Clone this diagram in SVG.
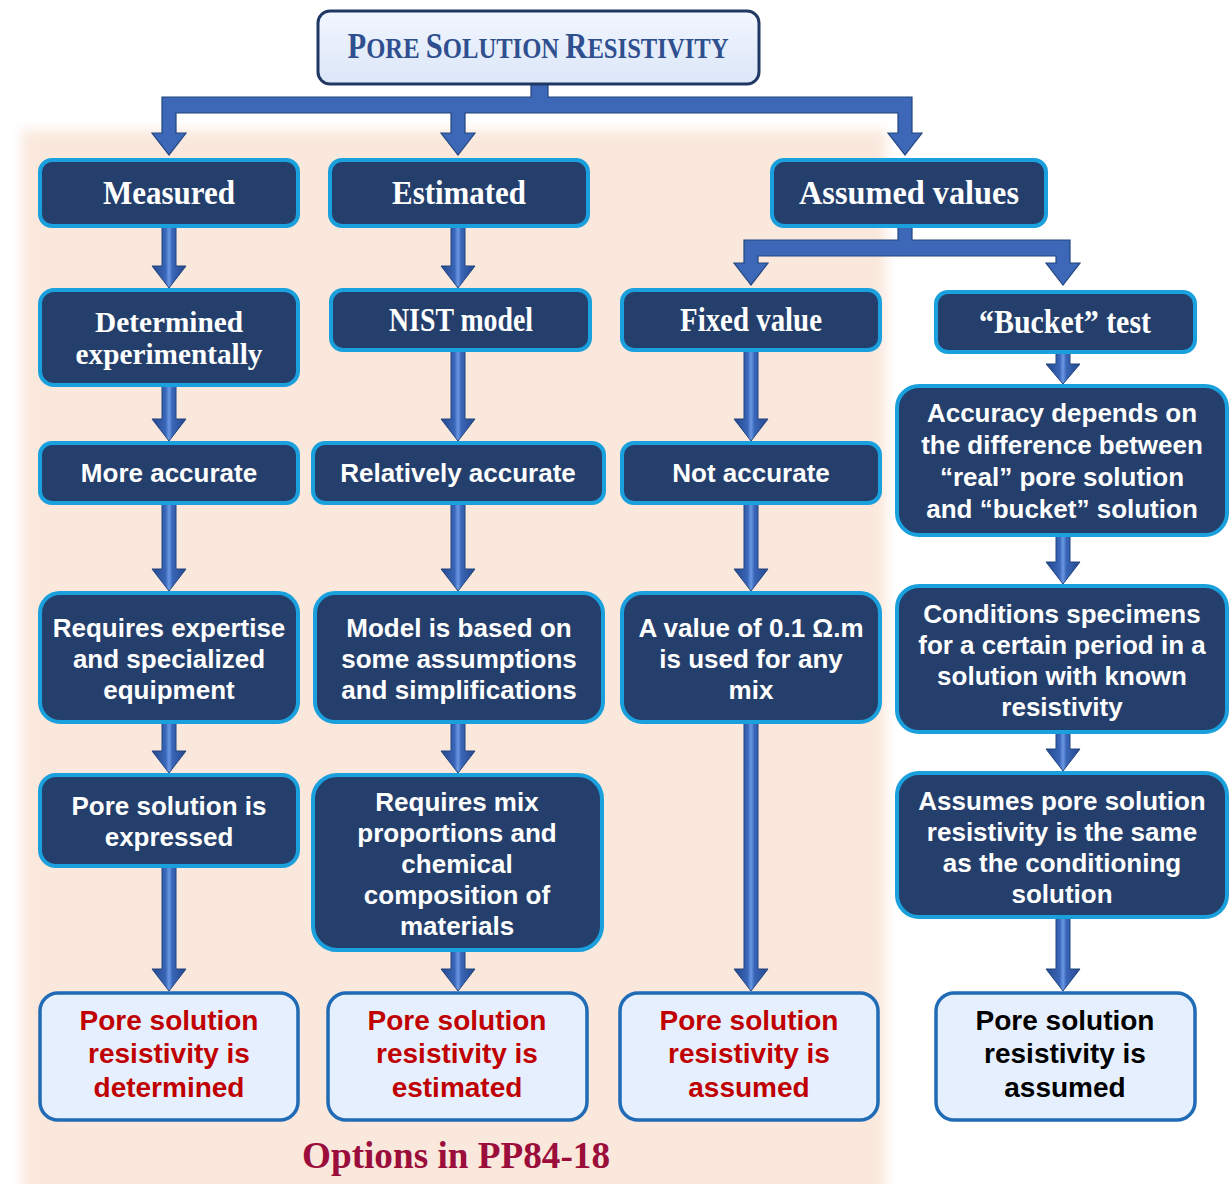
<svg xmlns="http://www.w3.org/2000/svg" width="1230" height="1184" viewBox="0 0 1230 1184">
<defs>
<filter id="soft" x="-5%" y="-5%" width="110%" height="110%"><feGaussianBlur stdDeviation="6"/></filter>
<linearGradient id="ag" x1="0" y1="0" x2="1" y2="0">
<stop offset="0" stop-color="#23478a"/><stop offset="0.4" stop-color="#3a66b8"/><stop offset="0.5" stop-color="#6a98e4"/><stop offset="0.6" stop-color="#3a66b8"/><stop offset="1" stop-color="#23478a"/>
</linearGradient>
<linearGradient id="tg" x1="0" y1="0" x2="0" y2="1">
<stop offset="0" stop-color="#f2f6ff"/><stop offset="1" stop-color="#dbe6f7"/>
</linearGradient>
<style>
.dk{fill:#253f6d;stroke:#1aa0dc;stroke-width:4}
.lt{fill:#e6effd;stroke:#1f6bb5;stroke-width:3.5}
.hd{font-family:"Liberation Serif",serif;font-weight:bold;font-size:33px;fill:#ffffff;text-anchor:middle}
.tx{font-family:"Liberation Sans",Arial,sans-serif;font-weight:bold;font-size:26px;fill:#ffffff;text-anchor:middle}
.rd{font-family:"Liberation Sans",Arial,sans-serif;font-weight:bold;font-size:28px;fill:#c00000;text-anchor:middle}
.bk{font-family:"Liberation Sans",Arial,sans-serif;font-weight:bold;font-size:28px;fill:#000000;text-anchor:middle}
.ar{fill:url(#ag);stroke:#22457f;stroke-width:1}
.br{fill:#3d68b8;stroke:#22457f;stroke-width:1.2}
</style>
</defs>
<rect width="1230" height="1184" fill="#ffffff"/>
<rect x="22" y="130" width="864" height="1070" fill="#fae8dd" filter="url(#soft)"/>

<g id="connectors">
<path class="br" d="M531,84 L548,84 L548,97 L912,97 L912,133 L922,133 L905,155 L888,133 L898,133 L898,113 L465,113 L465,133 L475,133 L458,155 L441,133 L451,133 L451,113 L176,113 L176,133 L186,133 L169,155 L152,133 L162,133 L162,97 L531,97 Z"/>
<path class="br" d="M898,226 L912,226 L912,240 L1070,240 L1070,263 L1080,263 L1063,285 L1046,263 L1056,263 L1056,256 L758,256 L758,263 L768,263 L751,285 L734,263 L744,263 L744,240 L898,240 Z"/>
<polygon class="ar" points="162,226 176,226 176,266 186,266 169,288 152,266 162,266"/>
<polygon class="ar" points="162,385 176,385 176,419 186,419 169,441 152,419 162,419"/>
<polygon class="ar" points="162,503 176,503 176,569 186,569 169,591 152,569 162,569"/>
<polygon class="ar" points="162,722 176,722 176,751 186,751 169,773 152,751 162,751"/>
<polygon class="ar" points="162,866 176,866 176,969 186,969 169,991 152,969 162,969"/>
<polygon class="ar" points="451,226 465,226 465,266 475,266 458,288 441,266 451,266"/>
<polygon class="ar" points="451,350 465,350 465,419 475,419 458,441 441,419 451,419"/>
<polygon class="ar" points="451,503 465,503 465,569 475,569 458,591 441,569 451,569"/>
<polygon class="ar" points="451,722 465,722 465,751 475,751 458,773 441,751 451,751"/>
<polygon class="ar" points="451,950 465,950 465,969 475,969 458,991 441,969 451,969"/>
<polygon class="ar" points="744,350 758,350 758,419 768,419 751,441 734,419 744,419"/>
<polygon class="ar" points="744,503 758,503 758,569 768,569 751,591 734,569 744,569"/>
<polygon class="ar" points="744,722 758,722 758,969 768,969 751,991 734,969 744,969"/>
<polygon class="ar" points="1056,352 1070,352 1070,364 1080,364 1063,384 1046,364 1056,364"/>
<polygon class="ar" points="1056,535 1070,535 1070,562 1080,562 1063,584 1046,562 1056,562"/>
<polygon class="ar" points="1056,732 1070,732 1070,749 1080,749 1063,771 1046,749 1056,749"/>
<polygon class="ar" points="1056,917 1070,917 1070,969 1080,969 1063,991 1046,969 1056,969"/>
</g>

<g id="title">
<rect x="318" y="11" width="441" height="73" rx="12" fill="url(#tg)" stroke="#1f3864" stroke-width="3"/>
<text transform="translate(538,58) scale(0.85,1)" x="0" y="0" text-anchor="middle" font-family="'Liberation Serif',serif" font-weight="bold" fill="#2f4f8f"><tspan font-size="36">P</tspan><tspan font-size="29">ORE </tspan><tspan font-size="36">S</tspan><tspan font-size="29">OLUTION </tspan><tspan font-size="36">R</tspan><tspan font-size="29">ESISTIVITY</tspan></text>
</g>

<g id="n_measured"><rect class="dk" x="40" y="160" width="258" height="66" rx="12"/><text class="hd" x="169" y="204" textLength="132" lengthAdjust="spacingAndGlyphs">Measured</text></g>
<g id="n_estimated"><rect class="dk" x="330" y="160" width="258" height="66" rx="12"/><text class="hd" x="459" y="204" textLength="134" lengthAdjust="spacingAndGlyphs">Estimated</text></g>
<g id="n_assumed"><rect class="dk" x="772" y="160" width="274" height="66" rx="12"/><text class="hd" x="909" y="204" textLength="220" lengthAdjust="spacingAndGlyphs">Assumed values</text></g>

<g id="n_determined"><rect class="dk" x="40" y="290" width="258" height="95" rx="14"/><text class="hd" x="169" y="332" font-size="30" style="font-size:30px" textLength="148" lengthAdjust="spacingAndGlyphs">Determined</text><text class="hd" x="169" y="364" style="font-size:30px" textLength="187" lengthAdjust="spacingAndGlyphs">experimentally</text></g>
<g id="n_nist"><rect class="dk" x="331" y="290" width="259" height="60" rx="12"/><text class="hd" x="461" y="331" textLength="144" lengthAdjust="spacingAndGlyphs">NIST model</text></g>
<g id="n_fixed"><rect class="dk" x="622" y="290" width="258" height="60" rx="12"/><text class="hd" x="751" y="331" textLength="142" lengthAdjust="spacingAndGlyphs">Fixed value</text></g>
<g id="n_bucket"><rect class="dk" x="936" y="292" width="259" height="60" rx="12"/><text class="hd" x="1065" y="333" textLength="172" lengthAdjust="spacingAndGlyphs">“Bucket” test</text></g>

<g id="n_more"><rect class="dk" x="40" y="443" width="258" height="60" rx="12"/><text class="tx" x="169" y="482">More accurate</text></g>
<g id="n_relatively"><rect class="dk" x="313" y="443" width="291" height="60" rx="12"/><text class="tx" x="458" y="482">Relatively accurate</text></g>
<g id="n_not"><rect class="dk" x="622" y="443" width="258" height="60" rx="12"/><text class="tx" x="751" y="482">Not accurate</text></g>

<g id="n_accuracy"><rect class="dk" x="897" y="386" width="330" height="149" rx="22"/>
<text class="tx" x="1062" y="422">Accuracy depends on</text><text class="tx" x="1062" y="454">the difference between</text><text class="tx" x="1062" y="486">“real” pore solution</text><text class="tx" x="1062" y="518">and “bucket” solution</text></g>

<g id="n_expertise"><rect class="dk" x="40" y="593" width="258" height="129" rx="20"/>
<text class="tx" x="169" y="637">Requires expertise</text><text class="tx" x="169" y="668">and specialized</text><text class="tx" x="169" y="699">equipment</text></g>
<g id="n_model"><rect class="dk" x="315" y="593" width="288" height="129" rx="20"/>
<text class="tx" x="459" y="637">Model is based on</text><text class="tx" x="459" y="668">some assumptions</text><text class="tx" x="459" y="699">and simplifications</text></g>
<g id="n_value"><rect class="dk" x="622" y="593" width="258" height="129" rx="20"/>
<text class="tx" x="751" y="637">A value of 0.1 Ω.m</text><text class="tx" x="751" y="668">is used for any</text><text class="tx" x="751" y="699">mix</text></g>
<g id="n_conditions"><rect class="dk" x="897" y="586" width="330" height="146" rx="22"/>
<text class="tx" x="1062" y="623">Conditions specimens</text><text class="tx" x="1062" y="654">for a certain period in a</text><text class="tx" x="1062" y="685">solution with known</text><text class="tx" x="1062" y="716">resistivity</text></g>

<g id="n_expressed"><rect class="dk" x="40" y="775" width="258" height="91" rx="16"/>
<text class="tx" x="169" y="815">Pore solution is</text><text class="tx" x="169" y="846">expressed</text></g>
<g id="n_mix"><rect class="dk" x="313" y="775" width="289" height="175" rx="24"/>
<text class="tx" x="457" y="811">Requires mix</text><text class="tx" x="457" y="842">proportions and</text><text class="tx" x="457" y="873">chemical</text><text class="tx" x="457" y="904">composition of</text><text class="tx" x="457" y="935">materials</text></g>
<g id="n_assumes"><rect class="dk" x="897" y="773" width="330" height="144" rx="22"/>
<text class="tx" x="1062" y="810">Assumes pore solution</text><text class="tx" x="1062" y="841">resistivity is the same</text><text class="tx" x="1062" y="872">as the conditioning</text><text class="tx" x="1062" y="903">solution</text></g>

<g id="n_r1"><rect class="lt" x="40" y="993" width="258" height="127" rx="18"/>
<text class="rd" x="169" y="1030">Pore solution</text><text class="rd" x="169" y="1063">resistivity is</text><text class="rd" x="169" y="1097">determined</text></g>
<g id="n_r2"><rect class="lt" x="328" y="993" width="259" height="127" rx="18"/>
<text class="rd" x="457" y="1030">Pore solution</text><text class="rd" x="457" y="1063">resistivity is</text><text class="rd" x="457" y="1097">estimated</text></g>
<g id="n_r3"><rect class="lt" x="620" y="993" width="258" height="127" rx="18"/>
<text class="rd" x="749" y="1030">Pore solution</text><text class="rd" x="749" y="1063">resistivity is</text><text class="rd" x="749" y="1097">assumed</text></g>
<g id="n_r4"><rect class="lt" x="936" y="993" width="259" height="127" rx="18"/>
<text class="bk" x="1065" y="1030">Pore solution</text><text class="bk" x="1065" y="1063">resistivity is</text><text class="bk" x="1065" y="1097">assumed</text></g>

<text x="456" y="1168" text-anchor="middle" font-family="'Liberation Serif',serif" font-weight="bold" font-size="38" fill="#9b0d3a" textLength="308" lengthAdjust="spacingAndGlyphs">Options in PP84-18</text>
</svg>
